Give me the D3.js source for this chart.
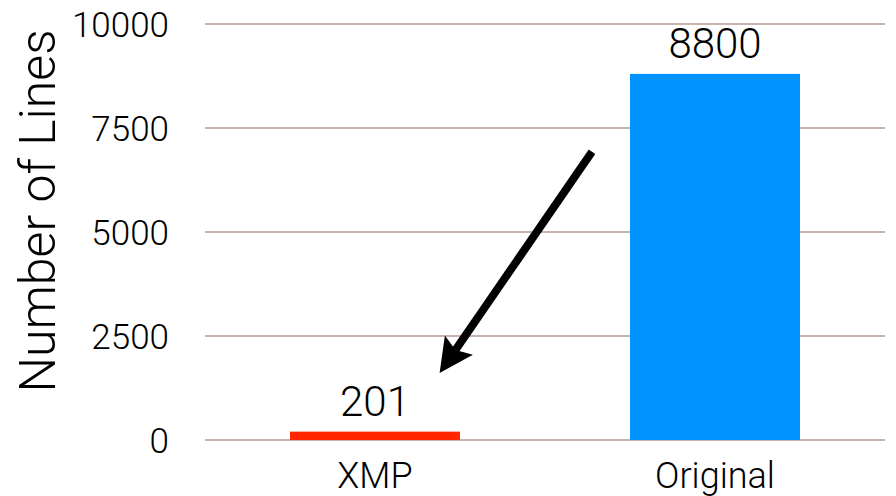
<!DOCTYPE html>
<html>
<head>
<meta charset="utf-8">
<script src="https://cdn.jsdelivr.net/npm/d3@7"></script>
<style>
  body { margin: 0; background: #fff; }
  text { font-family: Roboto, "Liberation Sans", sans-serif; font-weight: 300; fill: #000; }
</style>
</head>
<body>
<script>
// data
var categories = ["XMP", "Original"];
var values = [201, 8800];
var barColors = ["#ff2600", "#0093ff"];
var tickValues = [0, 2500, 5000, 7500, 10000];
var yTitle = "Number of Lines";

var w = 896;
var h = 496;
var margin = {top: 24, right: 11, bottom: 56, left: 205};

var svg = d3.select("body")
    .append("svg")
    .attr("width", w)
    .attr("height", h);

var xScale = d3.scaleBand()
    .domain(categories)
    .range([margin.left, w - margin.right])
    .paddingInner(0.5)
    .paddingOuter(0.25);

var yScale = d3.scaleLinear()
    .domain([0, 10000])
    .range([h - margin.bottom, margin.top]);

// gridlines
svg.selectAll("line.grid")
    .data(tickValues)
    .enter()
    .append("line")
    .attr("class", "grid")
    .attr("x1", margin.left)
    .attr("x2", w - margin.right)
    .attr("y1", function(d){ return yScale(d); })
    .attr("y2", function(d){ return yScale(d); })
    .style("stroke", "#b49d92")
    .style("stroke-width", 1.5);

// tick labels
svg.selectAll("text.tick")
    .data(tickValues)
    .enter()
    .append("text")
    .attr("class", "tick")
    .attr("x", 169)
    .attr("y", function(d){ return yScale(d); })
    .attr("dy", "0.36em")
    .attr("text-anchor", "end")
    .style("font-size", "35px")
    .text(function(d){ return d; });

// bars
svg.selectAll("rect")
    .data(values)
    .enter()
    .append("rect")
    .attr("x", function(d, i){ return xScale(categories[i]); })
    .attr("y", function(d){ return yScale(d); })
    .attr("width", xScale.bandwidth())
    .attr("height", function(d){ return yScale(0) - yScale(d); })
    .style("fill", function(d, i){ return barColors[i]; });

// value labels
svg.selectAll("text.value")
    .data(values)
    .enter()
    .append("text")
    .attr("class", "value")
    .attr("x", function(d, i){ return xScale(categories[i]) + xScale.bandwidth() / 2; })
    .attr("y", function(d){ return yScale(d) - 16; })
    .attr("text-anchor", "middle")
    .style("font-size", "42px")
    .text(function(d){ return d; });

// category labels
svg.selectAll("text.cat")
    .data(categories)
    .enter()
    .append("text")
    .attr("class", "cat")
    .attr("x", function(d){ return xScale(d) + xScale.bandwidth() / 2; })
    .attr("y", 488)
    .attr("text-anchor", "middle")
    .style("font-size", "36px")
    .text(function(d){ return d; });

// axis title
svg.append("text")
    .attr("transform", "rotate(-90)")
    .attr("x", -211)
    .attr("y", 55)
    .attr("text-anchor", "middle")
    .style("font-size", "50px")
    .text(yTitle);

// arrow annotation, pointing from the tall bar down to the small one
var arrowFrom = {x: xScale("Original") - 38, v: 6930};
var arrowTo = {x: xScale("XMP") + xScale.bandwidth() * 0.88, v: 1610};

var x1 = arrowFrom.x, y1 = yScale(arrowFrom.v);
var x2 = arrowTo.x, y2 = yScale(arrowTo.v);
var len = Math.hypot(x2 - x1, y2 - y1);
var ux = (x2 - x1) / len, uy = (y2 - y1) / len;
var headLen = 34, headHalf = 17, notch = 28;

svg.append("line")
    .attr("x1", x1)
    .attr("y1", y1)
    .attr("x2", x2 - ux * notch)
    .attr("y2", y2 - uy * notch)
    .style("stroke", "#000")
    .style("stroke-width", 8);

var baseX = x2 - ux * headLen, baseY = y2 - uy * headLen;
svg.append("path")
    .attr("d", "M" + x2 + "," + y2 +
        "L" + (baseX - uy * headHalf) + "," + (baseY + ux * headHalf) +
        "L" + (x2 - ux * notch) + "," + (y2 - uy * notch) +
        "L" + (baseX + uy * headHalf) + "," + (baseY - ux * headHalf) + "Z")
    .style("fill", "#000");
</script>
</body>
</html>
